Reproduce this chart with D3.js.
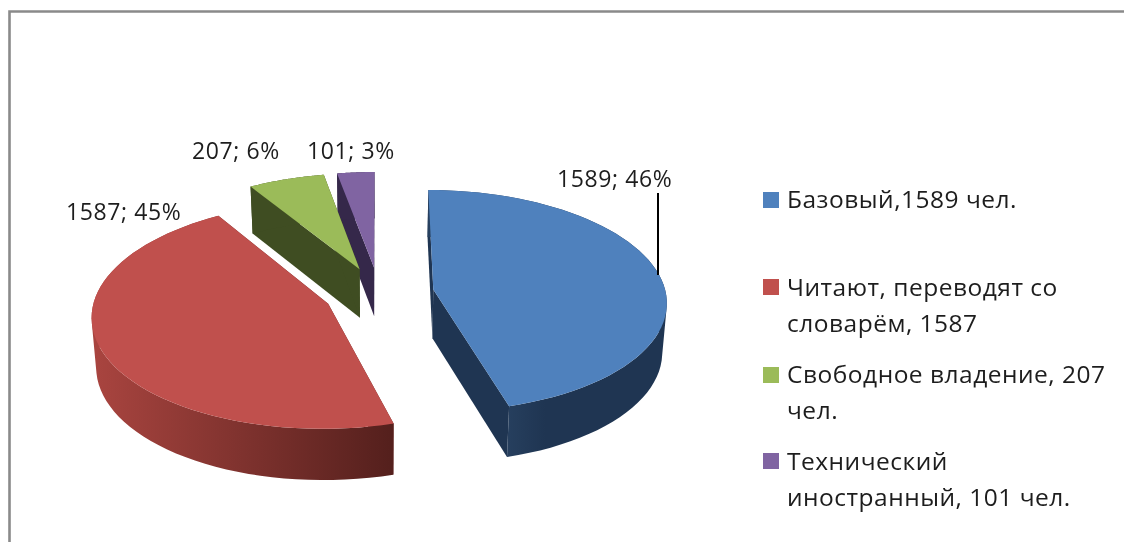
<!DOCTYPE html>
<html>
<head>
<meta charset="utf-8">
<script src="https://cdnjs.cloudflare.com/ajax/libs/d3/7.8.5/d3.min.js"></script>
<style>
  html, body { margin: 0; padding: 0; background: #fff; overflow: hidden; }
  svg { filter: blur(0.4px); }
  text { font-family: "Open Sans", "Noto Sans", sans-serif; fill: #1d1d1d; }
</style>
</head>
<body>
<div id="chart"></div>
<script>
// данные
const categories = ["Базовый", "Читают", "Свободное владение", "Технический иностранный"];
const values = [1589, 1587, 207, 101];
const percents = [46, 45, 6, 3];
const legendLines = [
  ["Базовый,1589 чел."],
  ["Читают, переводят со", "словарём, 1587"],
  ["Свободное владение, 207", "чел."],
  ["Технический", "иностранный, 101 чел."]
];
const faceColors = ["#4f81bd", "#c0504d", "#9bbb59", "#8064a2"];
const wallColors = ["#1f3552", "#6b2725", "#3f4d22", "#35284a"];

const width = 1124, height = 542;

// положение подписей
const labelPos = [[557, 187], [66, 220], [192, 159], [307, 159]];
const legendTop = [192, 279, 367, 453];
const legendBase = [208, 296, 383, 470];

// параметры псевдо-3D
const cx = 379, cy = 293;
const radius = 232.5, tilt = 0.474, persp = 0.000437, explode = 55, depth = 49;

function project(X, Y, z) {
  const s = 1 / (1 - Y * persp);
  const k = 1 - 0.016 * z;
  return [cx + X * s * k, cy + tilt * Y * s + z * (depth + 2 * Y / radius)];
}

const pie = d3.pie().sort(null).value(d => d);
const arcs = pie(values);

const svg = d3.select("#chart").append("svg")
  .attr("width", width)
  .attr("height", height);

const defs = svg.append("defs");
const redGrad = defs.append("linearGradient").attr("id", "redSide")
  .attr("gradientUnits", "userSpaceOnUse")
  .attr("x1", 97).attr("x2", 390).attr("y1", 0).attr("y2", 0);
redGrad.append("stop").attr("offset", 0).attr("stop-color", "#a8443f");
redGrad.append("stop").attr("offset", 1).attr("stop-color", "#55201d");

const blueGrad = defs.append("linearGradient").attr("id", "blueSide")
  .attr("gradientUnits", "userSpaceOnUse")
  .attr("x1", 505).attr("x2", 545).attr("y1", 0).attr("y2", 0);
blueGrad.append("stop").attr("offset", 0).attr("stop-color", "#27405f");
blueGrad.append("stop").attr("offset", 1).attr("stop-color", "#1f3552");

// рамка
svg.append("path")
  .attr("d", `M9.5,${height} V11.5 H${width}`)
  .attr("fill", "none")
  .attr("stroke", "#8a8a8a")
  .attr("stroke-width", 2.6);

const line = d3.line();

function sliceGeom(a) {
  const mid = (a.startAngle + a.endAngle) / 2;
  const ox = explode * Math.sin(mid), oy = -explode * Math.cos(mid);
  const steps = d3.range(0, 61).map(i => a.startAngle + (a.endAngle - a.startAngle) * i / 60);
  const rim = z => steps.map(t => project(ox + radius * Math.sin(t), oy - radius * Math.cos(t), z));
  return {apex: z => project(ox, oy, z), rim};
}

// все кусочки в одну сторону, иначе они гасят друг друга при заливке
function quad(p) {
  return line(d3.polygonArea(p) < 0 ? p.slice().reverse() : p) + "Z";
}

// рисуем от дальних секторов к ближним
const order = [3, 2, 1, 0];
const pieG = svg.append("g");

order.forEach(i => {
  const g = sliceGeom(arcs[i]);
  const top = g.rim(0), bottom = g.rim(1);
  const sel = pieG.append("g").attr("class", "slice");

  // боковые срезы
  [[top[0], bottom[0]], [top[60], bottom[60]]].forEach(([p, q]) => {
    sel.append("path")
      .attr("d", line([g.apex(0), p, q, g.apex(1)]) + "Z")
      .attr("fill", wallColors[i]);
  });

  // внешняя стенка: одним путём, иначе на градиенте видны швы
  const sideFill = i === 1 ? "url(#redSide)" : i === 0 ? "url(#blueSide)" : wallColors[i];
  const sideD = d3.range(60).map(j => quad([top[j], top[j + 1], bottom[j + 1], bottom[j]])).join("");
  sel.append("path")
    .attr("d", sideD)
    .attr("fill", sideFill);

  // верх
  sel.append("path")
    .attr("d", line([g.apex(0)].concat(top)) + "Z")
    .attr("fill", faceColors[i]);
});

// выноска
svg.append("line")
  .attr("x1", 658).attr("x2", 658)
  .attr("y1", 193).attr("y2", 275)
  .attr("stroke", "#000")
  .attr("stroke-width", 2);

// подписи данных
svg.append("g").selectAll("text")
  .data(values)
  .enter().append("text")
  .attr("x", (d, i) => labelPos[i][0])
  .attr("y", (d, i) => labelPos[i][1])
  .style("font-size", "23px")
  .style("letter-spacing", "0.6px")
  .text((d, i) => d + "; " + percents[i] + "%");

// легенда
const legend = svg.append("g").selectAll("g")
  .data(categories)
  .enter().append("g");

legend.append("rect")
  .attr("x", 763)
  .attr("y", (d, i) => legendTop[i])
  .attr("width", 16)
  .attr("height", 16)
  .attr("fill", (d, i) => faceColors[i]);

legend.each(function(d, i) {
  d3.select(this).selectAll("text")
    .data(legendLines[i])
    .enter().append("text")
    .attr("x", 787)
    .attr("y", (t, j) => legendBase[i] + j * 36)
    .style("font-size", "24.5px")
    .style("letter-spacing", "0.5px")
    .text(t => t);
});
</script>
</body>
</html>
